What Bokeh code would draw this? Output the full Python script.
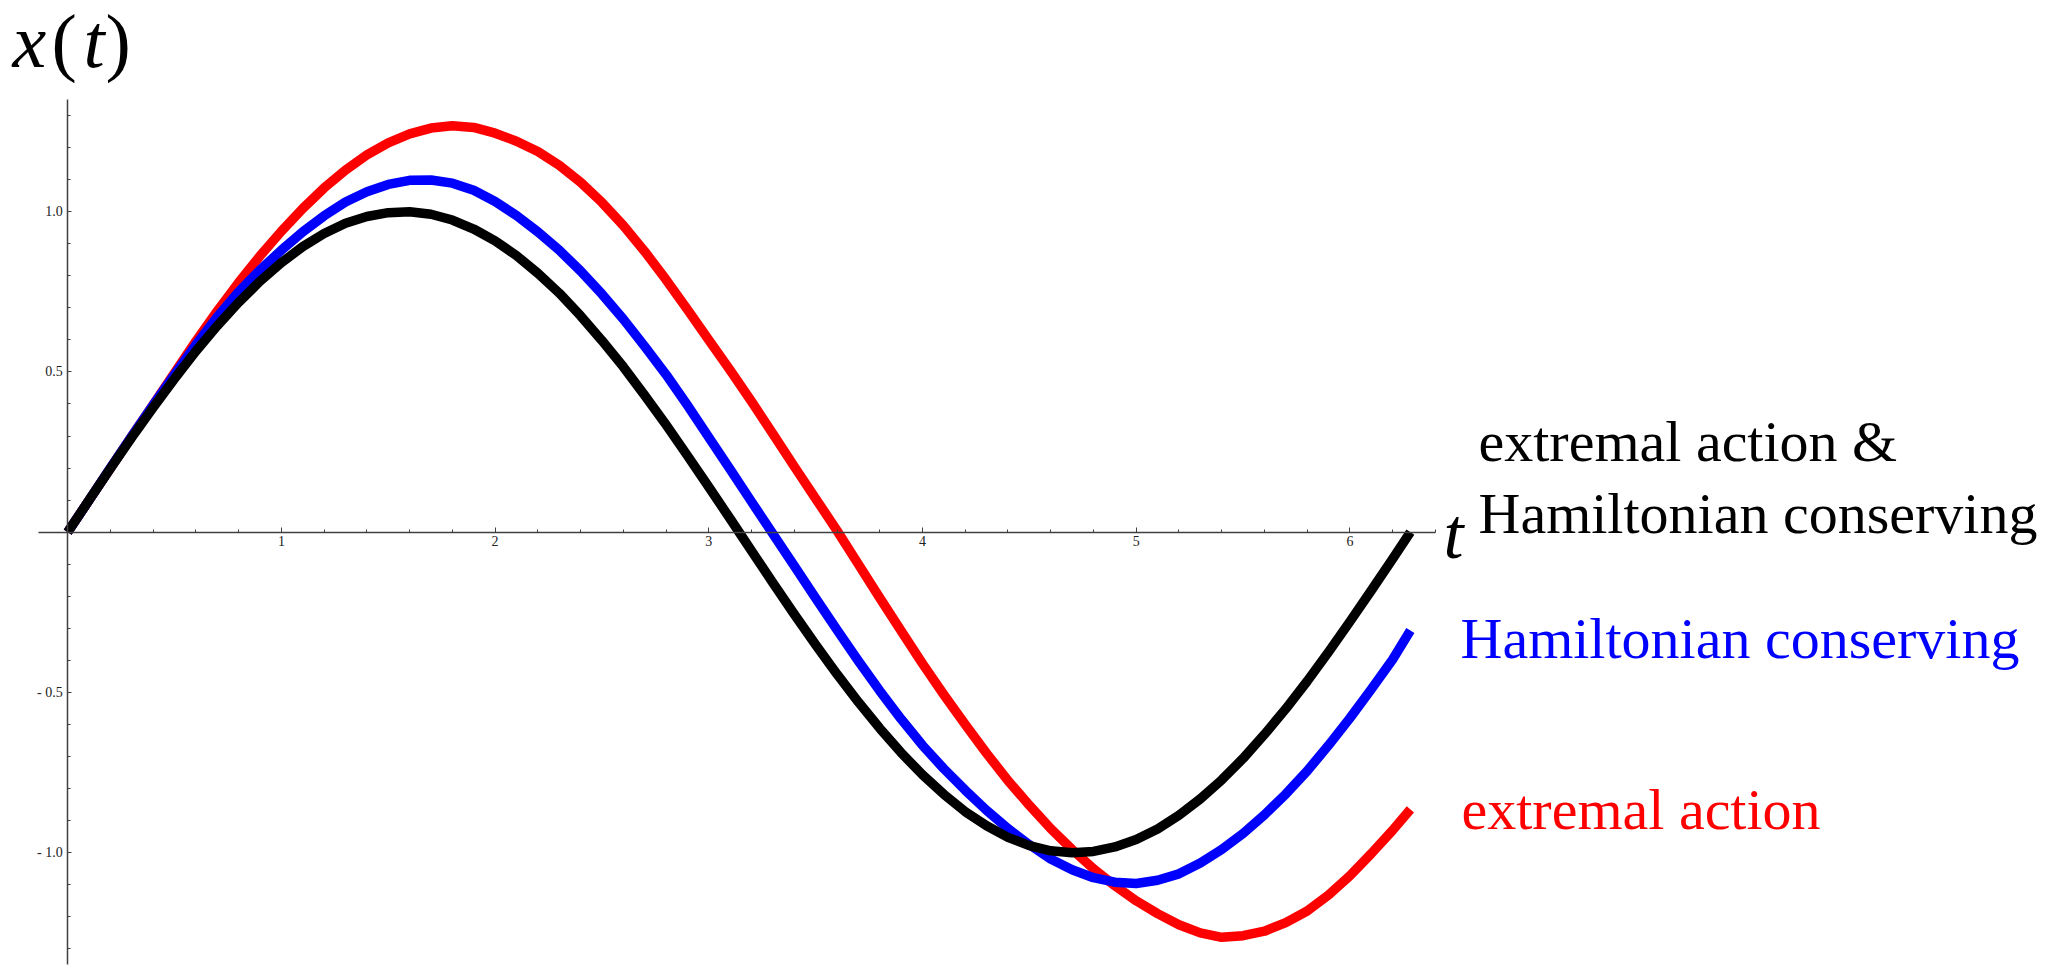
from bokeh.plotting import figure
from bokeh.models import LinearAxis, FixedTicker, Range1d, Label
from bokeh.embed import file_html
from bokeh.resources import INLINE

# ---- data ----
t_vals = [0.0, 0.1, 0.2, 0.3, 0.4, 0.5, 0.6, 0.7, 0.8, 0.9,
          1.0, 1.1, 1.2, 1.3, 1.4, 1.5, 1.6, 1.7, 1.8, 1.9,
          2.0, 2.1, 2.2, 2.3, 2.4, 2.5, 2.6, 2.7, 2.8, 2.9,
          3.0, 3.1, 3.2, 3.3, 3.4, 3.5, 3.6, 3.7, 3.8, 3.9,
          4.0, 4.1, 4.2, 4.3, 4.4, 4.5, 4.6, 4.7, 4.8, 4.9,
          5.0, 5.1, 5.2, 5.3, 5.4, 5.5, 5.6, 5.7, 5.8, 5.9,
          6.0, 6.1, 6.2, 6.283]

# black: extremal action & Hamiltonian conserving
x_both = [0.000, 0.100, 0.199, 0.296, 0.389, 0.479, 0.565, 0.644, 0.717, 0.783,
          0.841, 0.891, 0.932, 0.964, 0.985, 0.997, 1.000, 0.992, 0.974, 0.946,
          0.909, 0.863, 0.808, 0.746, 0.675, 0.598, 0.516, 0.427, 0.335, 0.239,
          0.141, 0.042, -0.058, -0.158, -0.256, -0.351, -0.443, -0.530, -0.612, -0.688,
          -0.757, -0.818, -0.872, -0.916, -0.952, -0.978, -0.994, -1.000, -0.996, -0.982,
          -0.959, -0.926, -0.883, -0.832, -0.773, -0.706, -0.631, -0.551, -0.465, -0.374,
          -0.279, -0.182, -0.083, 0.000]

# blue: Hamiltonian conserving
x_hamilton = [0.000, 0.100, 0.201, 0.300, 0.397, 0.492, 0.585, 0.672, 0.750, 0.818,
              0.880, 0.937, 0.987, 1.030, 1.062, 1.085, 1.098, 1.099, 1.089, 1.067,
              1.032, 0.988, 0.937, 0.880, 0.815, 0.743, 0.665, 0.580, 0.492, 0.396,
              0.296, 0.196, 0.095, -0.005, -0.105, -0.206, -0.305, -0.402, -0.495, -0.583,
              -0.665, -0.738, -0.805, -0.868, -0.925, -0.975, -1.020, -1.053, -1.078, -1.092,
              -1.096, -1.086, -1.066, -1.032, -0.990, -0.940, -0.882, -0.817, -0.745, -0.665,
              -0.580, -0.490, -0.397, -0.307]

# red: extremal action
x_action = [0.000, 0.100, 0.200, 0.300, 0.398, 0.497, 0.596, 0.690, 0.779, 0.862,
            0.939, 1.010, 1.074, 1.130, 1.177, 1.215, 1.243, 1.261, 1.268, 1.263,
            1.245, 1.220, 1.188, 1.145, 1.092, 1.029, 0.957, 0.876, 0.788, 0.695,
            0.600, 0.505, 0.408, 0.307, 0.205, 0.105, 0.005, -0.100, -0.205, -0.308,
            -0.410, -0.507, -0.600, -0.690, -0.775, -0.852, -0.925, -0.990, -1.050, -1.103,
            -1.150, -1.190, -1.225, -1.250, -1.264, -1.259, -1.245, -1.218, -1.182, -1.132,
            -1.072, -1.003, -0.930, -0.865]

x_ticks = [1, 2, 3, 4, 5, 6]
y_ticks = [-1.0, -0.5, 0.5, 1.0]
y_tick_labels = {-1.0: "- 1.0", -0.5: "- 0.5", 0.5: "0.5", 1.0: "1.0"}

label_both_1 = "extremal action &"
label_both_2 = "Hamiltonian conserving"
label_hamilton = "Hamiltonian conserving"
label_action = "extremal action"

# ---- figure ----
W, H = 2047, 965
p = figure(width=W, height=H, output_backend="svg", toolbar_location=None,
           x_axis_type=None, y_axis_type=None,
           x_range=Range1d(-0.31446, 9.2644), y_range=Range1d(-1.35195, 1.65897),
           min_border=0, min_border_left=0, min_border_right=0,
           min_border_top=0, min_border_bottom=0)
p.outline_line_color = None
p.background_fill_color = "white"
p.border_fill_color = "white"

x_minor = [round(0.2 * k, 1) for k in range(1, 33) if k % 5 != 0]
y_minor = [round(0.1 * k, 1) for k in range(-13, 14) if k != 0 and k % 5 != 0]

axis_col = "#404040"
serif = "Liberation Serif"

xaxis = LinearAxis(fixed_location=0, bounds=(-0.135, 6.40),
                   ticker=FixedTicker(ticks=x_ticks, minor_ticks=x_minor))
xaxis.axis_line_color = axis_col
xaxis.axis_line_width = 1.5
xaxis.major_tick_in = 5
xaxis.major_tick_out = 0
xaxis.minor_tick_in = 3
xaxis.minor_tick_out = 0
xaxis.major_tick_line_color = axis_col
xaxis.minor_tick_line_color = axis_col
xaxis.major_label_text_font = serif
xaxis.major_label_text_font_size = "14px"
xaxis.major_label_text_color = "#222222"
xaxis.major_label_standoff = 4
p.add_layout(xaxis, "below")

yaxis = LinearAxis(fixed_location=0, bounds=(-1.35, 1.35),
                   ticker=FixedTicker(ticks=y_ticks, minor_ticks=y_minor))
yaxis.major_label_overrides = y_tick_labels
yaxis.axis_line_color = axis_col
yaxis.axis_line_width = 1.5
yaxis.major_tick_in = 4
yaxis.major_tick_out = 0
yaxis.minor_tick_in = 3
yaxis.minor_tick_out = 0
yaxis.major_tick_line_color = axis_col
yaxis.minor_tick_line_color = axis_col
yaxis.major_label_text_font = serif
yaxis.major_label_text_font_size = "14px"
yaxis.major_label_text_color = "#222222"
yaxis.major_label_standoff = 5
p.add_layout(yaxis, "left")

# curves (black drawn last, on top)
p.line(t_vals, x_action, line_color="#ff0000", line_width=9.5, line_join="round")
p.line(t_vals, x_hamilton, line_color="#0000ff", line_width=9.5, line_join="round")
p.line(t_vals, x_both, line_color="#000000", line_width=9.5, line_join="round")

# ---- text (screen units from bottom-left of canvas) ----
def lab(x, y, text, size, color="black", style="normal"):
    p.add_layout(Label(x=x, y=y, x_units="screen", y_units="screen", text=text,
                       text_font=serif, text_font_size=size, text_color=color,
                       text_font_style=style, text_baseline="alphabetic",
                       text_align="left"))

big = "76px"
lab(12, 925, "x", big, style="italic")
lab(51, 925, "(", big)
lab(83, 925, "t", big, style="italic")
lab(105, 925, ")", big)

lab(1443, 432, "t", "72px", style="italic")

lab(1478, 524, label_both_1, "58px", "black")
lab(1478, 452, label_both_2, "58px", "black")
lab(1460, 327, label_hamilton, "58px", "#0000ff")
lab(1461, 156, label_action, "58px", "#ff0000")

open("out.html", "w").write(file_html(p, INLINE))
